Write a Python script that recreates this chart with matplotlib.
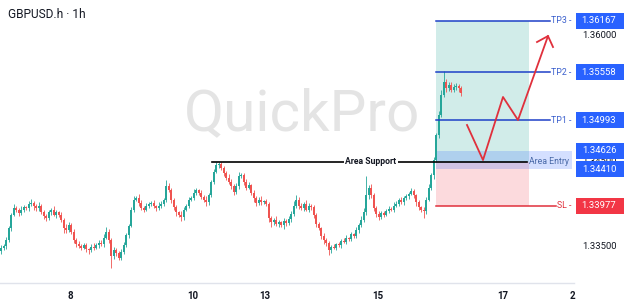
import numpy as np
import matplotlib
matplotlib.use("Agg")
from matplotlib import pyplot as plt
from matplotlib.patches import Rectangle

# hourly candles, closes in pips above 1.33000
first_open_pips = 44
close_pips = [
    48, 50, 57, 71, 87, 95, 93, 89, 93, 96, 95, 100, 101, 97, 95, 98,
    90, 86, 83, 90, 93, 87, 90, 87, 81, 71,
    69, 75, 67, 57, 52, 50, 48, 51, 46, 45,
    49, 48, 51, 54, 52, 60, 67, 57, 38, 45,
    42, 36, 43, 51, 63, 74, 93, 105, 107, 101,
    95, 93, 98, 100, 101, 97, 95, 98, 100, 105,
    121, 116, 105, 96, 90, 87, 84, 93, 98, 105,
    107, 113, 116, 113, 108, 105, 102, 110, 126, 138,
    146, 147, 142, 137, 131, 126, 121, 114, 121, 133,
    134, 126, 119, 122, 113, 107, 101, 105, 102, 103,
    100, 83, 78, 81, 76, 78, 75, 80, 77, 82,
    88, 98, 105, 98, 95, 100, 93, 98, 96, 87,
    76, 71, 62, 57, 53, 45, 49, 48, 52, 51,
    56, 55, 59, 58, 64, 62, 69, 75, 81, 90,
    110, 119, 110, 95, 88, 84, 89, 87, 92, 94,
    93, 98, 100, 105, 102, 107, 109, 112, 115, 110,
    102, 96, 93, 91, 105, 119, 134, 152, 181, 205,
    229, 244, 237, 241, 235, 238, 240, 237, 231,
]
wick_up = [
    3, 2, 4, 3, 2, 5, 3, 2, 4, 3, 2, 3, 5, 2, 3, 4, 2, 3, 2, 3,
    2, 4, 3, 2, 3, 2, 5, 3, 2, 3, 2, 4, 2, 3, 2, 2, 3, 4, 2, 3,
    3, 4, 5, 3, 2, 4, 3, 2, 3, 4, 3, 2, 3, 4, 2, 5, 3, 2, 3, 2,
    2, 3, 2, 4, 3, 2, 7, 4, 3, 2, 3, 2, 4, 3, 2, 3, 2, 4, 3, 2,
    3, 2, 4, 3, 2, 3, 4, 3, 2, 3, 2, 4, 3, 2, 4, 5, 3, 2, 3, 4,
    2, 3, 2, 3, 4, 2, 3, 2, 3, 2, 4, 3, 2, 3, 2, 3, 4, 5, 5, 3,
    3, 2, 4, 3, 2, 3, 2, 3, 2, 3, 2, 3, 2, 3, 2, 3, 2, 3, 4, 2,
    3, 2, 3, 2, 4, 5, 23, 3, 4, 3, 2, 3, 2, 3, 2, 3, 2, 4, 3, 2,
    3, 2, 3, 2, 4, 3, 2, 3, 2, 3, 3, 4, 3, 4, 3, 5, 6, 13, 4, 3,
    3, 4, 3, 2, 3,
]
wick_dn = [
    4, 3, 3, 2, 3, 2, 3, 4, 2, 3, 2, 3, 2, 4, 3, 3, 2, 4, 3, 2,
    3, 2, 4, 3, 2, 5, 3, 2, 3, 4, 3, 2, 3, 2, 3, 4, 2, 3, 2, 3,
    2, 3, 2, 3, 14, 3, 4, 3, 2, 3, 2, 3, 2, 3, 2, 3, 2, 3, 2, 3,
    3, 2, 3, 2, 3, 2, 3, 2, 4, 3, 5, 3, 4, 3, 2, 3, 2, 3, 2, 3,
    2, 3, 4, 3, 2, 3, 2, 3, 2, 4, 3, 2, 4, 3, 2, 3, 2, 4, 3, 2,
    3, 5, 3, 2, 3, 2, 3, 4, 5, 3, 2, 4, 3, 5, 3, 2, 3, 2, 3, 4,
    2, 3, 2, 3, 3, 4, 3, 2, 4, 5, 3, 6, 3, 2, 3, 2, 3, 2, 3, 2,
    2, 3, 2, 3, 2, 3, 3, 4, 3, 3, 4, 3, 2, 3, 2, 3, 2, 3, 2, 3,
    2, 3, 2, 3, 2, 3, 4, 3, 3, 8, 3, 2, 3, 4, 3, 3, 2, 3, 4, 3,
    3, 2, 3, 4, 3,
]

day_ticks = [28, 77.2, 106, 151.2, 201.2, 228.8]
day_labels = ["8", "10", "13", "15", "17", "2"]

# scale labels that are not hidden under the level boxes
price_ticks = [1.36, 1.345, 1.335]
tp_levels = [1.36167, 1.35558, 1.34993]
tp_names = ["TP3", "TP2", "TP1"]
entry_top, entry_bot = 1.34626, 1.34410
support_level = 1.345
sl_level = 1.33977

# hand drawn projection path (bar index, price)
path_x = [186.8, 193.2, 201.2, 207.2, 219.2]
path_y = [1.34934, 1.34519, 1.35266, 1.34993, 1.35988]
head_x = [214.8, 219.2, 221.2]
head_y = [1.35917, 1.35988, 1.35858]

GREEN = "#26a69a"
RED = "#ef5350"
BLUE = "#2962ff"
TEXT = "#131722"

close = 1.33 + np.array(close_pips) / 1e4
opens = np.r_[1.33 + first_open_pips / 1e4, close[:-1]]
highs = np.maximum(opens, close) + np.array(wick_up) / 1e4
lows = np.minimum(opens, close) - np.array(wick_dn) / 1e4
xs = np.arange(len(close)) + 0.5
up = close >= opens
cols = np.where(up, GREEN, RED)

fig = plt.figure(figsize=(6.24, 3.06), dpi=100)
fig.patch.set_facecolor("white")
ax = fig.add_axes([0, 23 / 306, 574 / 624, 283 / 306])
ylim = (1.33062, 1.36415)
ax.set_xlim(0, 229.6)
ax.set_ylim(*ylim)

ax.text(121, 1.35055, "QuickPro", fontsize=42, color="#e4e4e4",
        ha="center", va="center", family="Roboto", zorder=0)

ax.vlines(xs, lows, highs, colors=cols, linewidth=0.6, zorder=3)
body_h = np.maximum(np.abs(close - opens), 0.00006)
ax.bar(xs, body_h, bottom=np.minimum(opens, close), width=0.65,
       color=cols, linewidth=0, zorder=4)

# trade zones
x0 = 174.4
ax.add_patch(Rectangle((x0, support_level), 211.6 - x0, tp_levels[0] - support_level,
                       facecolor="#009688", alpha=0.18, linewidth=0, zorder=1))
ax.add_patch(Rectangle((x0, sl_level), 211.6 - x0, support_level - sl_level,
                       facecolor="#f23645", alpha=0.18, linewidth=0, zorder=1))
ax.add_patch(Rectangle((x0, entry_bot), 228.8 - x0, entry_top - entry_bot,
                       facecolor=BLUE, alpha=0.2, linewidth=0, zorder=2))

for lvl, name in zip(tp_levels, tp_names):
    ax.plot([x0, 220], [lvl, lvl], color="#1e40c8", linewidth=1.1, zorder=5)
    ax.text(228.6, lvl, name + " -", ha="right", va="center", fontsize=6.3,
            color="#3a5fcd", family="Roboto", zorder=6)
ax.plot([x0, 222.4], [sl_level, sl_level], color="#e0303c", linewidth=1.1, zorder=5)
ax.text(228.6, sl_level, "SL -", ha="right", va="center", fontsize=6.3,
        color="#e0303c", family="Roboto", zorder=6)

ax.plot([84.8, 210.8], [support_level, support_level], color="black",
        linewidth=1.2, zorder=5)
ax.text(148.4, support_level, "Area Support", ha="center", va="center",
        fontsize=6.2, fontweight="bold", family="Roboto", color=TEXT, zorder=6,
        bbox=dict(facecolor="white", edgecolor="none", pad=1.2))
ax.text(219.6, support_level, "Area Entry", ha="center", va="center",
        fontsize=6.3, color="#4a6aa8", family="Roboto", zorder=6)

ax.plot(path_x, path_y, color="#e0303c", linewidth=1.3, zorder=7)
ax.plot(head_x, head_y, color="#e0303c", linewidth=1.3, zorder=7)

ax.set_xticks(day_ticks)
ax.set_xticklabels(day_labels, fontsize=7, fontweight="bold", color=TEXT,
                   family="Roboto")
ax.tick_params(axis="x", length=0, pad=6)
ax.set_yticks([])
for s in ["top", "left", "right"]:
    ax.spines[s].set_visible(False)
ax.spines["bottom"].set_color("#e0e3eb")
ax.spines["bottom"].set_linewidth(1.0)

fig.text(8 / 624, 1 - 14 / 306, "GBPUSD.h \u00b7 1h", fontsize=8.6, color=TEXT,
         family="Roboto", va="center", ha="left")

# price scale
ps = fig.add_axes([574 / 624, 23 / 306, 50 / 624, 283 / 306])
ps.set_xlim(0, 50)
ps.set_ylim(*ylim)
ps.axis("off")
for p in price_ticks:
    ps.text(25, p, f"{p:.5f}", ha="center", va="center", fontsize=6.8,
            color=TEXT, family="Roboto", zorder=1)
boxes = tp_levels + [entry_top, entry_bot, sl_level]
box_cols = [BLUE] * 5 + ["#f23645"]
half = 8 * 0.00011848
for p, c in zip(boxes, box_cols):
    ps.add_patch(Rectangle((2, p - half), 50, 2 * half, facecolor=c,
                           linewidth=0, zorder=3, clip_on=False))
    ps.text(25, p, f"{p:.5f}", ha="center", va="center", fontsize=6.8,
            color="white", family="Roboto", zorder=4)

fig.savefig("out.png", dpi=100)
